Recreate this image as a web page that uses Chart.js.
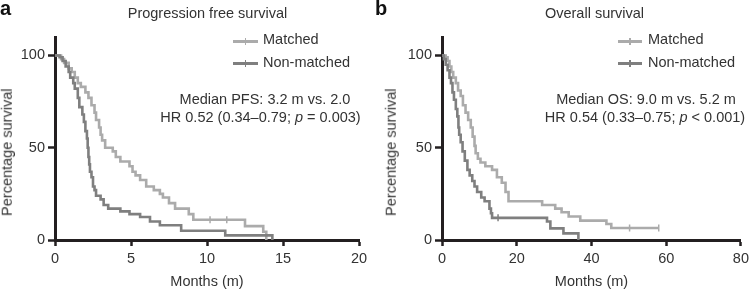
<!DOCTYPE html>
<html>
<head>
<meta charset="utf-8">
<script src="https://cdn.jsdelivr.net/npm/chart.js@4.4.1/dist/chart.umd.min.js"></script>
<style>
  html, body { margin:0; padding:0; background:#fff; }
  #wrap { position:relative; width:753px; height:291px; overflow:hidden; }
  canvas { position:absolute; top:0; }
  .t { position:absolute; font-family:"Liberation Sans", Arial, sans-serif; font-size:14.5px; line-height:14.5px; white-space:nowrap; color:#333; }
  .c { transform:translateX(-50%); }
  .lbl { position:absolute; font-family:"Liberation Sans", Arial, sans-serif; font-weight:bold; font-size:20px; line-height:20px; color:#111; }
  .yt { position:absolute; width:140px; text-align:center; font-family:"Liberation Sans", Arial, sans-serif; font-size:14.5px; line-height:14.5px; color:#333; transform:rotate(-90deg); }
  .lg { position:absolute; height:3px; }
  .lg i { position:absolute; left:50%; top:-2px; width:1.5px; height:7px; margin-left:-0.75px; background:inherit; }
</style>
</head>
<body>
<div id="wrap">
  <canvas id="ca" width="376" height="291" style="left:0"></canvas>
  <canvas id="cb" width="377" height="291" style="left:376px"></canvas>

  <div class="lbl" style="left:0;top:-2px">a</div>
  <div class="lbl" style="left:375px;top:-2px">b</div>

  <div class="t c" style="left:207.5px;top:6.4px">Progression free survival</div>
  <div class="t c" style="left:594.5px;top:6.4px">Overall survival</div>

  <div class="lg" style="left:233px;top:39.5px;width:25px;background:#ababab"><i></i></div>
  <div class="t" style="left:263px;top:32.2px">Matched</div>
  <div class="lg" style="left:233px;top:61.5px;width:25px;background:#7f7f7f"><i></i></div>
  <div class="t" style="left:263px;top:54.5px">Non-matched</div>

  <div class="lg" style="left:618px;top:39.5px;width:24px;background:#ababab"><i></i></div>
  <div class="t" style="left:648px;top:32.2px">Matched</div>
  <div class="lg" style="left:618px;top:61.5px;width:24px;background:#7f7f7f"><i></i></div>
  <div class="t" style="left:648px;top:54.5px">Non-matched</div>

  <div class="t c" style="left:265px;top:91.7px">Median PFS: 3.2 m vs. 2.0</div>
  <div class="t c" style="left:260.5px;top:110px">HR 0.52 (0.34–0.79; <i>p</i> = 0.003)</div>
  <div class="t c" style="left:646px;top:91.7px">Median OS: 9.0 m vs. 5.2 m</div>
  <div class="t c" style="left:645px;top:110px">HR 0.54 (0.33–0.75; <i>p</i> &lt; 0.001)</div>

  <div class="yt" style="left:-63.5px;top:145.25px">Percentage survival</div>
  <div class="yt" style="left:321.4px;top:145.25px">Percentage survival</div>
</div>

<script>
// ---- Data (months, percentage survival) ----
const pfsMatchedT = [0, 0.4, 0.6, 0.9, 1.1, 1.3, 1.5, 1.7, 2.0, 2.2, 2.4, 2.6, 2.7, 2.9, 3.0, 3.1, 3.3, 3.8, 4.0, 4.3, 4.9, 5.1, 5.3, 5.6, 6.0, 6.5, 6.9, 7.1, 7.5, 7.9, 8.8, 9.1, 12.5, 13.7, 13.9];
const pfsMatchedS = [100, 98, 96, 93, 91, 88, 85, 83, 80, 77, 73, 69, 65, 61, 57, 54, 50, 48, 45, 42.5, 40, 37, 35, 32.5, 29, 27, 25, 23, 20, 17, 14, 11, 7.5, 4.5, 0];
const pfsMatchedCensorT = [10.2, 11.3];
const pfsMatchedCensorS = [11, 11];

const pfsNonT = [0, 0.3, 0.5, 0.7, 0.9, 1.0, 1.2, 1.3, 1.5, 1.6, 1.8, 1.9, 2.0, 2.1, 2.15, 2.2, 2.25, 2.3, 2.4, 2.5, 2.6, 2.7, 3.0, 3.2, 3.5, 4.3, 4.9, 5.6, 6.25, 6.9, 8.3, 11.2, 14.3];
const pfsNonS = [100, 99, 97, 94, 91, 88, 85, 82, 77, 72, 68, 64, 59, 55, 50, 45, 41, 37, 34, 29, 27, 24, 22, 19, 17, 15.5, 14, 12.5, 10, 8, 5, 2.5, 0];

const osMatchedT = [0, 1.0, 1.5, 2.0, 2.5, 3.0, 3.7, 4.3, 5.0, 5.6, 6.3, 7.0, 7.7, 8.2, 8.7, 9.0, 9.6, 10.3, 11.6, 13.4, 14.7, 16.0, 17.0, 17.8, 26.8, 30.3, 32.0, 33.9, 37.0, 44.0, 45.3, 58.0];
const osMatchedS = [100, 99, 97, 94, 91, 88, 85, 81, 78, 73, 69, 65, 61, 56, 51, 47, 44, 42, 40, 38, 34, 31, 26, 21, 19, 17, 15, 12.7, 10.5, 8.7, 6.5, 6.5];
const osMatchedCensorT = [50.2, 58.0];
const osMatchedCensorS = [6.5, 6.5];

const osNonT = [0, 0.5, 1.0, 1.5, 2.0, 2.4, 2.8, 3.2, 3.7, 4.1, 4.4, 4.6, 5.0, 5.5, 6.1, 6.8, 7.4, 8.1, 8.7, 9.4, 10.5, 11.4, 12.7, 13.1, 13.4, 28.1, 29.0, 32.5, 36.5];
const osNonS = [100, 98, 95, 92, 88, 85, 80, 76, 71, 67, 61, 57, 53, 48, 43, 38, 35, 32, 29, 26, 23, 21, 17, 14.5, 12, 10, 6.3, 3.6, 0];
const osNonCensorT = [15.0];
const osNonCensorS = [12];

const pfsXTicks = [0, 5, 10, 15, 20];
const osXTicks = [0, 20, 40, 60, 80];
const yTicks = [0, 50, 100];

// ---- Styling ----
const LIGHT = '#ababab';
const DARK = '#7f7f7f';
const AXIS = '#231f20';
const TXT = '#333';
const FONT = { family: '"Liberation Sans", Arial, sans-serif', size: 14.5 };

const pts = (t, s) => t.map((x, i) => ({ x: x, y: s[i] }));

function km(label, t, s, color) {
  return { type: 'line', label, data: pts(t, s), borderColor: color, borderWidth: 2.6,
           stepped: true, pointRadius: 0, fill: false, order: color === LIGHT ? 2 : 1 };
}
function censor(t, s, color) {
  return { type: 'scatter', data: pts(t, s), showLine: false, pointStyle: 'line', rotation: 90,
           pointRadius: 3.5, borderColor: color, backgroundColor: color, pointBorderWidth: 1.5, borderWidth: 1.5 };
}

function makeChart(id, datasets, xMax, xTicks, yWidth, padRight) {
  return new Chart(document.getElementById(id), {
    data: { datasets },
    options: {
      responsive: false, maintainAspectRatio: false, animation: false,
      devicePixelRatio: 1,
      layout: { padding: { left: 0, right: padRight, top: 37, bottom: 0 } },
      plugins: { legend: { display: false }, tooltip: { enabled: false } },
      scales: {
        x: {
          type: 'linear', min: 0, max: xMax,
          afterBuildTicks: (sc) => { sc.ticks = xTicks.map(v => ({ value: v })); },
          afterFit: (sc) => { sc.height = 51; },
          ticks: { color: TXT, font: FONT, padding: 4, maxRotation: 0, autoSkip: false },
          grid: { display: true, drawOnChartArea: false, drawTicks: true, tickLength: 6, tickWidth: 2.5, tickColor: AXIS },
          border: { display: true, color: AXIS, width: 3 },
          title: { display: true, text: 'Months (m)', color: TXT, font: FONT, padding: { top: 0, bottom: 0 } }
        },
        y: {
          type: 'linear', min: 0, max: 110,
          afterBuildTicks: (sc) => { sc.ticks = yTicks.map(v => ({ value: v })); },
          afterFit: (sc) => { sc.width = yWidth; },
          ticks: { color: TXT, font: FONT, padding: 3, autoSkip: false },
          grid: { display: true, drawOnChartArea: false, drawTicks: true, tickLength: 7, tickWidth: 2.5, tickColor: AXIS },
          border: { display: true, color: AXIS, width: 3 }
        }
      }
    }
  });
}

makeChart('ca', [
  km('Matched', pfsMatchedT, pfsMatchedS, LIGHT),
  km('Non-matched', pfsNonT, pfsNonS, DARK),
  censor(pfsMatchedCensorT, pfsMatchedCensorS, LIGHT)
], 20, pfsXTicks, 55, 17);

makeChart('cb', [
  km('Matched', osMatchedT, osMatchedS, LIGHT),
  km('Non-matched', osNonT, osNonS, DARK),
  censor(osMatchedCensorT, osMatchedCensorS, LIGHT),
  censor(osNonCensorT, osNonCensorS, DARK)
], 80, osXTicks, 66, 9);
</script>
</body>
</html>
